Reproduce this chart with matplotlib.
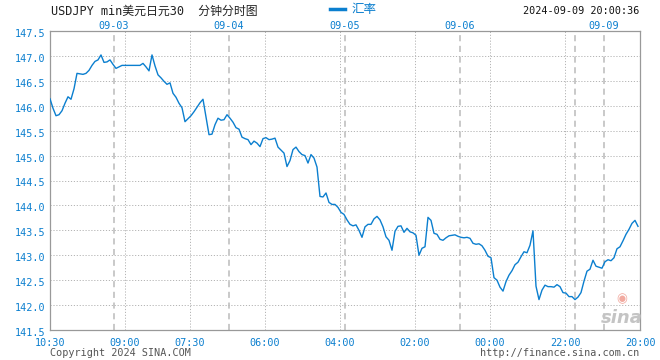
import numpy as np
import matplotlib
matplotlib.use('Agg')
import matplotlib.pyplot as plt
import matplotlib.transforms as mtrans

# USD/JPY minute chart, one sample per 3 px column of the original chart
values = [
    146.14, 145.95, 145.80, 145.82, 145.90, 146.05, 146.18, 146.13, 146.34, 146.65,
    146.64, 146.63, 146.65, 146.71, 146.81, 146.89, 146.92, 147.02, 146.87, 146.88,
    146.92, 146.83, 146.75, 146.78, 146.81, 146.81, 146.81, 146.81, 146.81, 146.81,
    146.81, 146.85, 146.78, 146.70, 147.02, 146.80, 146.62, 146.56, 146.49, 146.43,
    146.46, 146.25, 146.17, 146.05, 145.96, 145.68, 145.74, 145.80, 145.88, 145.97,
    146.06, 146.13, 145.78, 145.42, 145.43, 145.62, 145.75, 145.71, 145.72, 145.82,
    145.75, 145.67, 145.56, 145.53, 145.37, 145.34, 145.32, 145.22, 145.29, 145.25,
    145.18, 145.34, 145.36, 145.32, 145.33, 145.35, 145.17, 145.11, 145.05, 144.78,
    144.90, 145.12, 145.17, 145.08, 145.02, 145.00, 144.85, 145.02, 144.95, 144.77,
    144.18, 144.17, 144.25, 144.06, 144.02, 144.02, 143.96, 143.86, 143.82, 143.71,
    143.62, 143.59, 143.61, 143.50, 143.36, 143.57, 143.62, 143.62, 143.73, 143.78,
    143.71, 143.57, 143.37, 143.30, 143.10, 143.48, 143.58, 143.59, 143.46, 143.54,
    143.47, 143.45, 143.40, 143.00, 143.14, 143.17, 143.76, 143.70, 143.44, 143.42,
    143.32, 143.30, 143.35, 143.39, 143.40, 143.41, 143.38, 143.36, 143.35, 143.36,
    143.34, 143.24, 143.22, 143.23, 143.19, 143.10, 142.98, 142.95, 142.55, 142.50,
    142.36, 142.28, 142.47, 142.60, 142.69, 142.81, 142.86, 142.97, 143.07, 143.05,
    143.20, 143.49, 142.38, 142.11, 142.30, 142.40, 142.37, 142.37, 142.36, 142.41,
    142.37, 142.25, 142.24, 142.17, 142.17, 142.11, 142.16, 142.25, 142.48, 142.68,
    142.72, 142.90, 142.78, 142.76, 142.74, 142.87, 142.91, 142.89, 142.95, 143.13,
    143.17, 143.29, 143.42, 143.52, 143.64, 143.70, 143.58,
]

y_ticks = [141.5, 142.0, 142.5, 143.0, 143.5, 144.0, 144.5, 145.0, 145.5, 146.0, 146.5, 147.0, 147.5]
time_labels = ['10:30', '09:00', '07:30', '06:00', '04:00', '02:00', '00:00', '22:00', '20:00']
time_pos = [0, 25, 46.67, 71.67, 96.67, 121.67, 146.67, 171.67, 196.67]
day_labels = ['09-03', '09-04', '09-05', '09-06', '', '09-09']
day_pos = [21.33, 59.67, 98.33, 136.67, 175, 184.67]

blue = '#0b7fcf'
grey = '#b4b4b4'
W, H = 660, 360

fig = plt.figure(figsize=(6.6, 3.6), dpi=100)
ax = fig.add_axes([50 / W, 1 - 330 / H, 590 / W, 299 / H])

ax.plot(np.arange(len(values)), values, color=blue, lw=1.0, zorder=3)

ax.set_xlim(0, time_pos[-1])
ax.set_ylim(y_ticks[0], y_ticks[-1])

for yv in y_ticks[1:-1]:
    ax.axhline(yv, color=grey, lw=0.7, ls=(0, (1.2, 1.8)), zorder=1)
for xv in time_pos[1:-1]:
    ax.axvline(xv, color=grey, lw=0.7, ls=(0, (1.2, 1.8)), zorder=1)
for xv in day_pos:
    ax.axvline(xv, color='#bababa', lw=1.1, ls=(0, (4, 3)), zorder=2)

ax.set_yticks(y_ticks)
ax.set_yticklabels(['%.1f' % v for v in y_ticks], family='DejaVu Sans Mono',
                   fontsize=7.3, color=blue)
ax.set_xticks(time_pos)
ax.set_xticklabels(time_labels, family='DejaVu Sans Mono', fontsize=7.3, color=blue)
ax.tick_params(length=0)
ax.tick_params(axis='y', pad=3)
ax.tick_params(axis='x', pad=6)
# y labels sit a couple of pixels below their grid lines in the original
off = mtrans.ScaledTranslation(0, -2 / 100, fig.dpi_scale_trans)
for lab in ax.get_yticklabels():
    lab.set_transform(lab.get_transform() + off)

for sp in ax.spines.values():
    sp.set_color('#999999')
    sp.set_linewidth(0.9)

# top date labels
for lab, xv in zip(day_labels, day_pos):
    if lab:
        ax.text(xv, 1.0, lab, transform=ax.get_xaxis_transform(), ha='center',
                va='bottom', family='DejaVu Sans Mono', fontsize=7.3, color=blue)

mixed = ['DejaVu Sans Mono', 'Noto Sans CJK SC']
fig.text(51 / W, 1 - 11 / H, 'USDJPY min美元日元30  分钟分时图', family=mixed,
         fontsize=8.6, color='#222222', va='center', ha='left')

# legend
fig.add_artist(plt.Line2D([330 / W, 345 / W], [1 - 9 / H, 1 - 9 / H], color=blue, lw=2.5))
fig.text(351 / W, 1 - 10 / H, '汇率', family=['Noto Sans CJK SC'], fontsize=9,
         color=blue, va='center', ha='left')

fig.text(639 / W, 1 - 11 / H, '2024-09-09 20:00:36', family='DejaVu Sans Mono',
         fontsize=7.3, color='#111111', va='center', ha='right')

fig.text(50 / W, 1 - 353 / H, 'Copyright 2024 SINA.COM', family='DejaVu Sans Mono',
         fontsize=7.3, color='#555555', va='center', ha='left')
fig.text(639 / W, 1 - 353 / H, 'http://finance.sina.com.cn', family='DejaVu Sans Mono',
         fontsize=7.3, color='#555555', va='center', ha='right')

# sina watermark
fig.text(622 / W, 1 - 318 / H, 'sina', family='DejaVu Sans', fontsize=13,
         fontweight='bold', style='italic', color='#c4c4c4', ha='center', va='center')
fig.text(622 / W, 1 - 299 / H, '◉', family='DejaVu Sans', fontsize=9,
         color='#f2aaa0', ha='center', va='center')

fig.savefig('out.png', dpi=100)
